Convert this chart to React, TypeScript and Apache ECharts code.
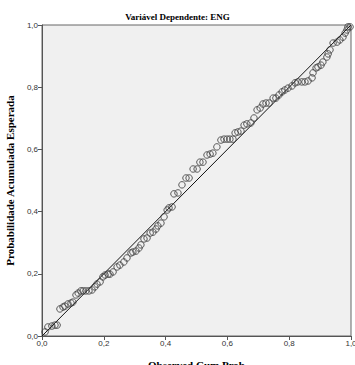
import React, { useEffect, useRef } from "react";
import * as echarts from "echarts";

const titleText = "Variável Dependente: ENG";
const xAxisName = "Observed Cum Prob";
const yAxisName = "Probabilidade Acumulada Esperada";

const observed = [
  0.010, 0.019, 0.032, 0.042, 0.049, 0.058, 0.068, 0.074, 0.084, 0.094,
  0.100, 0.110, 0.117, 0.126, 0.133, 0.142, 0.152, 0.162, 0.171, 0.178,
  0.188, 0.197, 0.204, 0.214, 0.220, 0.230, 0.243, 0.252, 0.265, 0.275,
  0.288, 0.294, 0.304, 0.314, 0.320, 0.330, 0.340, 0.350, 0.359, 0.369,
  0.375, 0.385, 0.395, 0.405, 0.411, 0.421, 0.427, 0.440, 0.453, 0.466,
  0.476, 0.489, 0.502, 0.511, 0.521, 0.534, 0.544, 0.553, 0.566, 0.579,
  0.589, 0.599, 0.608, 0.618, 0.625, 0.634, 0.644, 0.654, 0.663, 0.676,
  0.686, 0.696, 0.706, 0.715, 0.725, 0.735, 0.748, 0.757, 0.767, 0.777,
  0.786, 0.796, 0.809, 0.819, 0.828, 0.841, 0.851, 0.861, 0.874, 0.877,
  0.887, 0.893, 0.903, 0.909, 0.922, 0.926, 0.932, 0.942, 0.955, 0.964,
  0.974, 0.981, 0.987, 0.990, 0.997,
];

const expected = [
  0.013, 0.029, 0.032, 0.035, 0.035, 0.087, 0.093, 0.096, 0.103, 0.106,
  0.109, 0.132, 0.138, 0.145, 0.145, 0.145, 0.145, 0.148, 0.158, 0.167,
  0.174, 0.190, 0.196, 0.199, 0.199, 0.206, 0.222, 0.228, 0.238, 0.251,
  0.267, 0.270, 0.273, 0.283, 0.293, 0.312, 0.315, 0.331, 0.334, 0.344,
  0.354, 0.363, 0.383, 0.405, 0.412, 0.415, 0.457, 0.460, 0.486, 0.508,
  0.508, 0.537, 0.537, 0.559, 0.559, 0.582, 0.585, 0.588, 0.608, 0.630,
  0.633, 0.633, 0.633, 0.633, 0.653, 0.656, 0.659, 0.678, 0.682, 0.685,
  0.701, 0.727, 0.733, 0.746, 0.749, 0.749, 0.765, 0.765, 0.775, 0.785,
  0.791, 0.797, 0.804, 0.814, 0.817, 0.817, 0.817, 0.820, 0.830, 0.846,
  0.862, 0.865, 0.871, 0.881, 0.897, 0.907, 0.920, 0.942, 0.945, 0.952,
  0.961, 0.974, 0.984, 0.994, 0.994,
];

const refLine = [
  [0, 0],
  [1, 1],
];

const fmt = (v: number) => v.toFixed(1).replace(".", ",");

export default function App() {
  const ref = useRef<HTMLDivElement>(null);

  useEffect(() => {
    if (!ref.current) return;
    const chart = echarts.init(ref.current, undefined, { renderer: "svg" });
    const points = observed.map((x, i) => [x, expected[i]]);
    const axisLabel = {
      fontFamily: "Liberation Sans, Arial, sans-serif",
      fontSize: 8,
      color: "#333",
      formatter: (v: number) => fmt(v),
    };
    const serifBold = {
      fontFamily: "Liberation Serif, Times New Roman, serif",
      fontWeight: "bold" as const,
      fontSize: 11,
      color: "#000",
    };
    chart.setOption({
      animation: false,
      backgroundColor: "#ffffff",
      title: {
        text: titleText,
        left: "center",
        top: 12,
        padding: 0,
        textStyle: { ...serifBold, fontSize: 9 },
      },
      grid: {
        left: 42,
        top: 25,
        width: 309,
        height: 311,
        show: true,
        backgroundColor: "#f0f0f0",
        borderColor: "#666",
        borderWidth: 1,
        containLabel: false,
        outerBoundsMode: "none",
      },
      xAxis: {
        type: "value",
        min: 0,
        max: 1,
        interval: 0.2,
        name: xAxisName,
        nameLocation: "middle",
        nameGap: 23,
        nameTextStyle: serifBold,
        axisLine: { show: true, lineStyle: { color: "#555", width: 1 } },
        axisTick: { show: true, length: 4, lineStyle: { color: "#555" } },
        axisLabel: { ...axisLabel, margin: 3 },
        splitLine: { show: false },
      },
      yAxis: {
        type: "value",
        min: 0,
        max: 1,
        interval: 0.2,
        name: yAxisName,
        nameLocation: "middle",
        nameGap: 23,
        nameTextStyle: serifBold,
        axisLine: { show: true, lineStyle: { color: "#555", width: 1 } },
        axisTick: { show: true, length: 4, lineStyle: { color: "#555" } },
        axisLabel: { ...axisLabel, margin: 4 },
        splitLine: { show: false },
      },
      series: [
        {
          type: "line",
          data: refLine,
          symbol: "none",
          silent: true,
          lineStyle: { color: "#111", width: 1 },
          z: 2,
        },
        {
          type: "scatter",
          data: points,
          symbol: "circle",
          symbolSize: 6.5,
          itemStyle: {
            color: "rgba(0,0,0,0)",
            borderColor: "#333",
            borderWidth: 1,
          },
          z: 3,
        },
      ],
    });
    return () => chart.dispose();
  }, []);

  return (
    <div
      ref={ref}
      style={{ position: "absolute", left: 0, top: 0, width: 355, height: 365 }}
    />
  );
}
